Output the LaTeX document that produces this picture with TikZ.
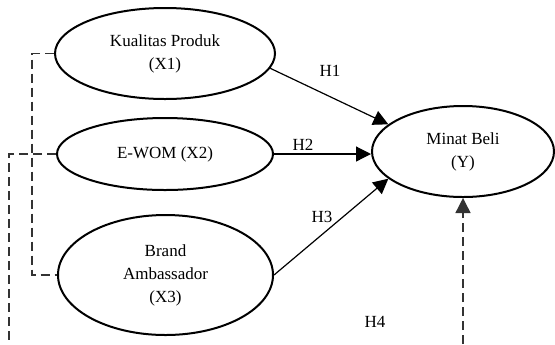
\documentclass[tikz,border=0pt]{standalone}
\usepackage{fontspec}
\setmainfont{Liberation Serif}
\usepackage{tikz}
\usetikzlibrary{positioning}
\usetikzlibrary{shapes.geometric}
\usetikzlibrary{arrows.meta}

\begin{document}
\begin{tikzpicture}[
x = 0.5pt, y = -0.5pt,
  var/.style = {draw, ellipse, line width = 1pt, align = center, inner sep = 0pt,
    font = \fontsize{8.5}{11.5}\selectfont},
  hyp/.style = {font = \fontsize{8.5}{11.5}\selectfont, inner sep = 0pt},
  path/.style = {line width = 0.6pt, -{Triangle[length = 7.5pt, width = 7.5pt]}},
  dashline/.style = {line width = 0.7pt, black!80, dash pattern = on 4.5pt off 2.5pt}
]
\useasboundingbox (0,0) rectangle (555,344);
\node[var, minimum width = 110pt, minimum height = 45.5pt] (kp) at (165,53.5) {Kualitas Produk\\(X1)};
\node[var, minimum width = 108pt, minimum height = 36pt] (ewom) at (165,154) {E-WOM (X2)};
\node[var, minimum width = 107.5pt, minimum height = 60pt] (ba) at (165.5,275) {Brand\\Ambassador\\(X3)};
\node[var, minimum width = 91pt, minimum height = 45.5pt] (my) at (463,151.5) {Minat Beli\\(Y)};
\coordinate (bl) at (9,344);
\coordinate (br) at (463,344);
% hypotheses
\draw[path] (kp.-8) -- (my.160);
\draw[path] (ewom.east) -- (ewom.east -| my.west);
\draw[path] (ba.east) -- (my.200);
\draw[dashline, -{Triangle[length = 7.5pt, width = 7.5pt]}] (br) -- (my.south);
\node[hyp] (h1) at (330,71) {H1};
\node[hyp] (h2) at (303,145) {H2};
\node[hyp] (h3) at (322,217) {H3};
\node[hyp] (h4) at (375,322) {H4};
% moderation
\draw[dashline] (kp.west) -- ++(-22,0) |- (ba.west);
\draw[dashline] (ewom.west) -| (bl);
\end{tikzpicture}
\end{document}
